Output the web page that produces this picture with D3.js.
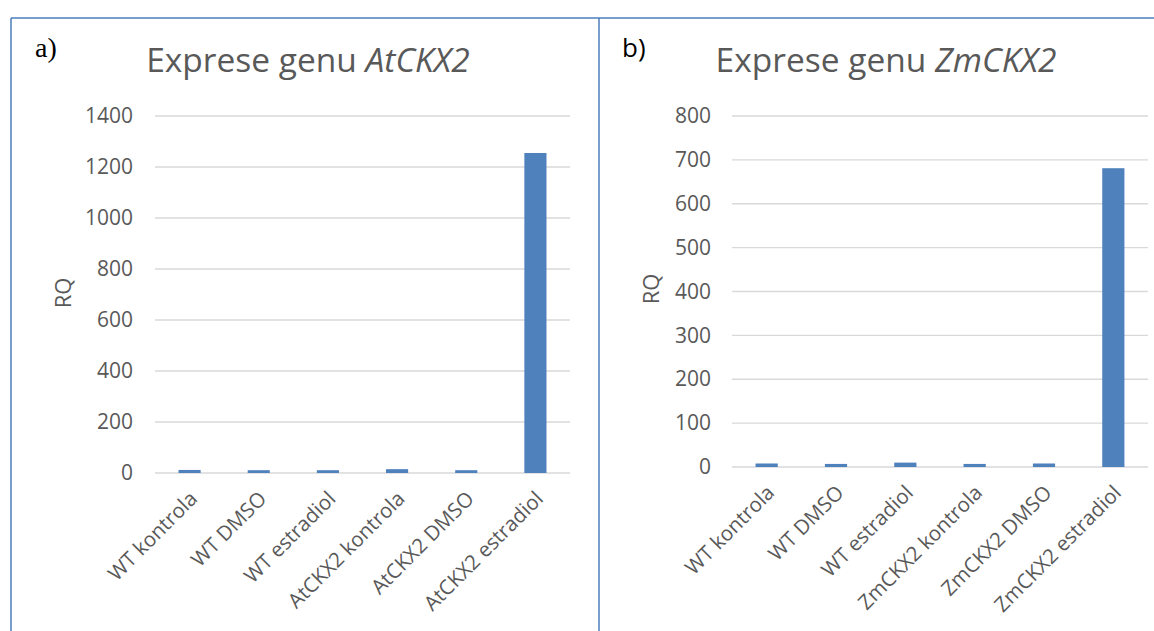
<!DOCTYPE html>
<html>
<head>
<meta charset="utf-8">
<script src="https://cdn.jsdelivr.net/npm/d3@7"></script>
<style>
  body { margin: 0; background: #fff; }
  svg text { font-family: "Open Sans", "Noto Sans", sans-serif; fill: #595959; }
</style>
</head>
<body>
<script>
// data
var catsA = ['WT kontrola', 'WT DMSO', 'WT estradiol', 'AtCKX2 kontrola', 'AtCKX2 DMSO', 'AtCKX2 estradiol'];
var valsA = [12, 11, 11, 15, 11, 1255];
var ticksA = [0, 200, 400, 600, 800, 1000, 1200, 1400];

var catsB = ['WT kontrola', 'WT DMSO', 'WT estradiol', 'ZmCKX2 kontrola', 'ZmCKX2 DMSO', 'ZmCKX2 estradiol'];
var valsB = [8, 7, 10, 7, 8, 681];
var ticksB = [0, 100, 200, 300, 400, 500, 600, 700, 800];

var W = 1154, H = 631;
var svg = d3.select('body').append('svg')
    .attr('width', W)
    .attr('height', H);

// frame lines
var frame = '#4a7ebb';
svg.append('line').attr('x1', 11).attr('x2', W).attr('y1', 18).attr('y2', 18)
    .attr('stroke', frame).attr('stroke-width', 1.5);
svg.append('line').attr('x1', 11).attr('x2', 11).attr('y1', 18).attr('y2', H)
    .attr('stroke', frame).attr('stroke-width', 1.5);
svg.append('line').attr('x1', 599).attr('x2', 599).attr('y1', 18).attr('y2', H)
    .attr('stroke', frame).attr('stroke-width', 1.5);

function drawChart(o) {
    var g = svg.append('g');

    var x = d3.scaleBand()
        .domain(o.cats)
        .range([o.x0, o.x1])
        .paddingInner(0.68)
        .paddingOuter(0.34);
    var y = d3.scaleLinear()
        .domain([0, o.max])
        .range([o.y0, o.y1]);

    // gridlines
    g.selectAll('.grid').data(o.ticks).enter().append('line')
        .attr('x1', o.x0).attr('x2', o.x1)
        .attr('y1', function(d) { return y(d); })
        .attr('y2', function(d) { return y(d); })
        .attr('stroke', '#d9d9d9')
        .attr('stroke-width', 1.3);

    // y axis labels
    var yAxis = d3.axisLeft(y).tickValues(o.ticks).tickFormat(d3.format('d')).tickSize(0).tickPadding(0);
    var ya = g.append('g')
        .attr('transform', 'translate(' + o.labelX + ',0)')
        .call(yAxis);
    ya.select('.domain').remove();
    ya.selectAll('text')
        .style('font-size', '21px')
        .attr('fill', '#595959');

    // bars
    g.selectAll('.bar').data(o.vals).enter().append('rect')
        .attr('x', function(d, i) { return x(o.cats[i]); })
        .attr('width', x.bandwidth())
        .attr('y', function(d) { return y(d); })
        .attr('height', function(d) { return y(0) - y(d); })
        .attr('fill', '#4f81bd');

    // x labels
    var xAxis = d3.axisBottom(x).tickSize(0).tickPadding(0);
    var xa = g.append('g')
        .attr('transform', 'translate(0,' + o.y0 + ')')
        .call(xAxis);
    xa.select('.domain').remove();
    xa.selectAll('text')
        .style('font-size', '20.5px')
        .attr('fill', '#595959')
        .attr('text-anchor', 'end')
        .attr('dy', 0)
        .attr('transform', 'translate(9,27) rotate(-45)');

    // RQ
    g.append('text')
        .attr('transform', 'translate(' + o.rqX + ',' + o.rqY + ') rotate(-90)')
        .attr('text-anchor', 'middle')
        .style('font-size', '22px')
        .text('RQ');

    // title
    var t = g.append('text')
        .attr('x', o.titleX)
        .attr('y', 72)
        .attr('text-anchor', 'middle')
        .style('font-size', '33.5px');
    t.append('tspan').text('Exprese genu ');
    t.append('tspan').style('font-style', 'italic').text(o.gene);
}

drawChart({
    cats: catsA, vals: valsA, ticks: ticksA, max: 1400,
    x0: 155, x1: 570, y0: 473, y1: 116,
    labelX: 133, rqX: 71, rqY: 293, titleX: 308, gene: 'AtCKX2'
});

drawChart({
    cats: catsB, vals: valsB, ticks: ticksB, max: 800,
    x0: 732, x1: 1148, y0: 467, y1: 116,
    labelX: 711, rqX: 659, rqY: 289, titleX: 886, gene: 'ZmCKX2'
});

// panel letters
svg.append('text')
    .attr('x', 35).attr('y', 57)
    .style('font-family', '"Liberation Serif", serif')
    .style('font-size', '28px')
    .style('fill', '#000')
    .text('a)');
svg.append('text')
    .attr('x', 622).attr('y', 57)
    .style('font-size', '26px')
    .style('fill', '#000')
    .text('b)');
</script>
</body>
</html>
